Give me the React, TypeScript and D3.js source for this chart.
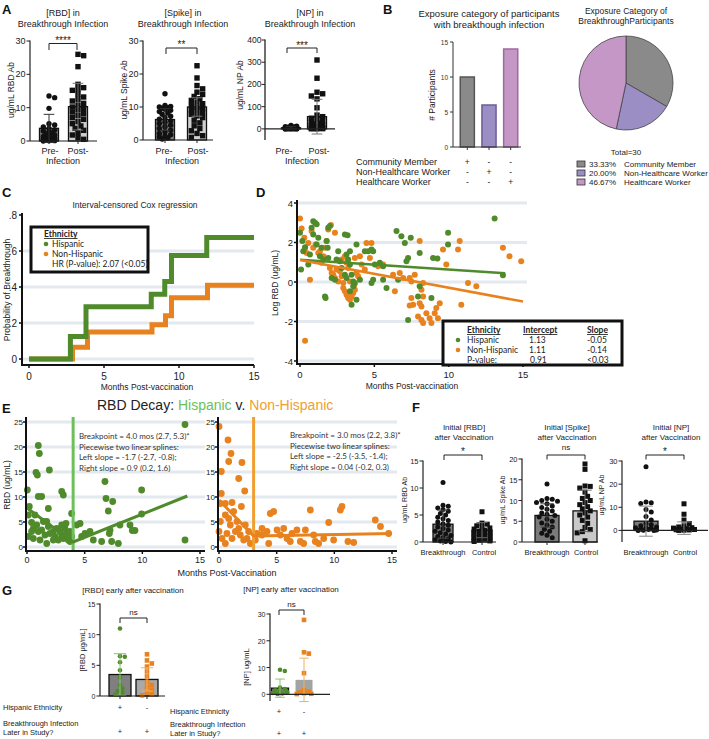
import React from 'react';
import * as d3 from 'd3';

const ARIAL = "'Liberation Sans', Arial, sans-serif";
const CAL = "Lato, 'Open Sans', sans-serif";
const GREEN = '#4f8a2b';
const ORANGE = '#e8821e';
const LGREEN = '#6cbf5a';
const LORANGE = '#f0a030';
const GRID = '#e3e9ee';

// ---------- Panel A data ----------
const aRbdPre = [13.5, 13.0, 9.8, 5.2, 4.8, 4.2, 3.8, 3.3, 3.0, 2.7, 2.4, 2.1, 1.8, 1.6, 1.4, 1.2, 1.0, 0.9, 0.8, 0.7, 0.6, 0.5, 0.4, 0.3, 0.3, 0.2, 0.2, 0.1, 0.1, 0.0];
const aRbdPost = [26.0, 25.6, 22.3, 17.0, 16.0, 15.5, 15.2, 14.0, 13.2, 12.5, 12.0, 11.3, 10.8, 10.2, 9.8, 9.3, 8.7, 8.2, 7.6, 7.0, 6.5, 5.8, 5.2, 4.5, 3.8, 3.2, 2.5, 1.8, 1.0, 0.5];
const aSpikePre = [14.0, 10.5, 10.2, 10.0, 9.8, 9.6, 9.3, 9.0, 8.6, 8.2, 7.8, 7.2, 6.8, 6.3, 5.8, 5.4, 5.0, 4.5, 4.0, 3.5, 3.0, 2.5, 2.0, 1.6, 1.2, 0.9, 0.6, 0.3];
const aSpikePost = [22.5, 18.8, 16.5, 15.5, 14.5, 13.8, 13.2, 12.5, 12.0, 11.5, 11.0, 10.5, 10.0, 9.6, 9.2, 8.8, 8.3, 7.8, 7.3, 6.8, 6.0, 5.2, 4.3, 3.5, 2.8, 2.0, 1.3, 0.8];
const aNpPre = [15, 12, 10, 9, 8, 7, 6, 5, 4, 3, 2, 1, 0.5, 0, 0, 0, 0, 0];
const aNpPost = [310, 228, 165, 158, 148, 135, 95, 62, 55, 48, 42, 36, 30, 26, 22, 18, 15, 12, 10, 8, 6, 5, 4, 3, 2, 1, 0.5, 0.2];
const aMeans = { rbd: [3.8, 10.3], spike: [6.2, 10.0], np: [5, 55] };
const aSds = { rbd: [4.2, 7.0], spike: [3.3, 2.8], np: [5, 78] };

// ---------- Panel B data ----------
const bCats = ['Community Member', 'Non-Healthcare Worker', 'Healthcare Worker'];
const bCounts = [10, 6, 14];
const bPcts = [33.33, 20.0, 46.67];
const bFill = ['#8a8a8a', '#9b8ec4', '#c497c6'];
const bStroke = ['#555555', '#6b5e99', '#9a6c9c'];
const bTicks = [0, 5, 10, 15];

// ---------- Panel C data ----------
const cHispT = [0, 2.76, 3.8, 8.15, 9.05, 9.5, 11.85, 15];
const cHispP = [0, 0.125, 0.29, 0.36, 0.43, 0.575, 0.675, 0.675];
const cNonT = [0, 2.9, 3.9, 8.2, 9.1, 9.5, 11.9, 15];
const cNonP = [0, 0.065, 0.15, 0.19, 0.24, 0.34, 0.41, 0.41];
const cYTicks = [0, 0.2, 0.4, 0.6, 0.8];
const cYLabels = ['0', '.2', '.4', '.6', '.8'];
const xTicks15 = [0, 5, 10, 15];

// ---------- Panel D data ----------
const dGreenX = [0.00, 0.07, 0.16, 0.22, 0.34, 0.56, 0.67, 0.78, 0.89, 1.01, 1.12, 0.89, 1.23, 1.12, 1.34, 1.45, 1.57, 1.79, 1.86, 1.90, 2.01, 1.90, 2.13, 2.35, 1.68, 1.72, 2.46, 2.57, 2.68, 2.80, 3.02, 3.20, 3.13, 3.24, 3.36, 3.36, 3.02, 3.13, 3.47, 3.58, 3.69, 3.58, 3.36, 3.80, 3.47, 3.80, 4.03, 4.36, 4.59, 4.81, 4.92, 5.03, 5.37, 5.59, 4.92, 4.81, 5.59, 5.82, 6.49, 6.60, 6.82, 7.05, 7.45, 7.16, 7.27, 8.05, 8.05, 7.94, 7.27, 8.84, 8.95, 9.24, 9.96, 9.96, 13.09, 13.65];
const dGreenY = [2.49, 0.63, 2.07, 1.56, 1.76, 0.88, 1.39, 2.75, 3.08, 3.00, 2.92, 2.41, 2.24, 1.90, 1.31, 1.73, 1.14, 2.07, 1.73, 2.75, 2.83, 1.22, 0.20, 0.12, -0.73, -0.81, 1.14, 1.56, 1.05, 0.71, 2.41, 2.37, 1.39, 1.14, 1.56, 0.88, 0.37, 0.20, 0.37, 0.03, -0.05, -0.22, -0.47, -0.90, -1.15, 1.90, 0.12, 1.56, 1.56, 1.64, 1.56, 0.88, 0.97, 0.80, 0.12, -0.05, 0.12, -0.31, 2.58, 0.12, 2.32, 1.98, 2.24, 1.05, 1.22, 1.47, -0.22, -0.73, -1.92, -0.81, 1.22, 1.19, 2.49, 1.90, 3.22, 0.34];
const dOrangeX = [0.00, 0.11, 0.29, 0.34, 0.45, 0.56, 0.67, 0.34, 0.78, 0.89, 1.05, 1.23, 1.34, 1.45, 1.57, 1.68, 1.79, 1.90, 2.08, 2.35, 2.01, 2.13, 2.24, 2.35, 2.46, 2.57, 2.68, 2.80, 2.91, 2.91, 3.02, 3.13, 3.24, 3.36, 3.47, 3.58, 3.65, 3.69, 3.80, 3.91, 3.36, 2.80, 3.02, 3.13, 3.24, 3.69, 4.03, 4.14, 4.36, 4.47, 4.81, 4.70, 5.26, 5.59, 6.26, 6.38, 6.71, 6.94, 7.38, 7.49, 7.72, 8.05, 8.28, 8.17, 7.49, 7.61, 7.38, 8.05, 8.17, 8.28, 7.94, 8.17, 8.28, 8.50, 8.72, 8.84, 9.06, 9.17, 9.28, 9.40, 9.62, 9.84, 10.63, 10.74, 10.85, 11.30, 11.86, 13.65, 14.09, 14.88];
const dOrangeY = [3.22, 2.71, 2.24, 1.73, 1.47, 1.98, 0.12, -2.98, 2.58, 1.73, 1.90, 1.47, 1.56, 0.97, 1.31, 1.73, 2.07, 2.66, 2.88, 2.49, 0.71, 0.46, 0.37, 0.20, 0.63, 0.03, 0.54, 0.29, -0.05, -0.31, -0.47, -0.64, -0.81, -0.90, -0.73, -0.56, -0.14, -0.39, 0.46, 0.29, 0.03, 1.14, 1.31, 0.97, 0.71, 1.22, 1.31, 0.88, 0.63, 1.98, 1.98, 1.22, 0.80, 0.88, 0.37, -0.47, 0.46, 0.20, 0.20, 0.03, 0.37, 2.07, -0.05, -0.39, -0.81, -1.15, -1.19, -1.07, -1.24, -0.73, -1.75, -1.92, -2.08, -1.58, -1.83, -2.08, -1.58, -1.32, -1.83, -1.07, 1.64, 0.88, 1.64, 2.07, -1.15, -0.05, -0.22, 1.73, 1.31, 1.05];
const dFitHisp = [[0, 1.13], [13.8, 0.44]];
const dFitNon = [[0, 1.11], [15, -0.99]];
const dYTicks = [-4, -2, 0, 2, 4];

// ---------- Panel E data ----------
const eGreenX = [0.98, 1.07, 0.78, 0.90, 1.94, 0.03, 0.98, 1.27, 3.01, 3.15, 0.20, 0.12, 0.69, 1.85, 0.40, 0.55, 0.84, 0.98, 1.27, 1.42, 1.71, 1.85, 1.56, 1.99, 2.28, 2.43, 2.57, 2.86, 3.01, 3.15, 3.29, 3.38, 3.44, 3.58, 3.73, 3.87, 3.73, 3.87, 3.01, 2.72, 2.28, 1.71, 1.13, 0.40, 0.55, 0.12, 4.31, 4.60, 4.74, 5.03, 5.46, 5.75, 6.47, 6.76, 6.85, 7.05, 7.43, 7.20, 7.14, 7.34, 7.92, 8.06, 8.93, 9.13, 9.36, 9.94, 9.94, 13.70, 13.70];
const eGreenY = [20.3, 18.7, 14.9, 14.4, 15.4, 11.4, 10.1, 10.1, 11.1, 10.4, 8.1, 6.4, 6.4, 7.7, 4.9, 3.7, 4.4, 3.1, 3.4, 5.1, 5.1, 4.1, 2.4, 2.7, 3.1, 2.1, 3.7, 3.1, 2.4, 1.7, 3.7, 4.7, 2.7, 1.4, 1.1, 2.1, 3.1, 6.7, 4.4, 1.4, 1.4, 0.7, 1.4, 3.1, 1.7, 2.1, 4.4, 4.7, 2.1, 2.7, 3.1, 1.4, 1.1, 13.1, 9.7, 7.2, 9.1, 3.4, 2.7, 1.1, 0.7, 4.4, 4.4, 3.3, 3.3, 11.4, 6.6, 24.5, 1.4];
const eOrangeX = [0.00, 0.78, 1.04, 0.84, 1.99, 0.20, 1.71, 2.23, 0.20, 0.12, 0.55, 1.13, 1.27, 1.94, 0.12, 0.55, 0.84, 0.98, 1.56, 1.71, 2.28, 2.57, 0.00, 0.26, 0.69, 1.13, 1.42, 1.85, 2.14, 2.43, 2.72, 0.55, 3.15, 3.29, 3.73, 3.73, 4.16, 4.31, 4.45, 4.74, 5.03, 5.32, 5.61, 5.90, 6.18, 6.33, 6.76, 7.05, 7.34, 7.92, 8.21, 7.49, 8.35, 8.64, 9.08, 9.51, 9.94, 10.52, 10.66, 11.18, 11.68, 13.55, 14.00, 14.71];
const eOrangeY = [24.1, 21.4, 18.7, 17.1, 16.9, 15.1, 13.7, 11.2, 10.7, 8.7, 8.7, 8.9, 7.1, 8.1, 5.1, 6.4, 5.7, 4.4, 5.1, 3.7, 4.4, 3.1, 3.1, 1.7, 2.7, 1.7, 3.1, 2.4, 1.4, 1.7, 0.7, 0.7, 1.4, 2.7, 3.7, 2.4, 3.1, 0.7, 6.7, 7.1, 3.4, 2.4, 3.7, 1.7, 1.1, 2.7, 3.4, 1.1, 0.7, 7.4, 2.4, 3.4, 1.1, 0.7, 1.7, 4.9, 1.4, 7.4, 8.1, 1.1, 0.9, 5.4, 4.1, 2.7];
const eSplineHisp = [[0, 7.8], [4.0, 1.0], [13.9, 10.2]];
const eSplineNon = [[0, 9.4], [3.0, 2.2], [15, 2.7]];
const eBreakHisp = 4.0;
const eBreakNon = 3.0;
const eYTicks = [0, 5, 10, 15, 20, 25];

// ---------- Panel F data ----------
const fRbdBT = [11.0, 6.8, 6.6, 6.3, 6.0, 5.7, 5.3, 5.0, 4.6, 4.3, 4.0, 3.7, 3.4, 3.1, 2.8, 2.5, 2.2, 2.0, 1.7, 1.5, 1.2, 1.0, 0.8, 0.6, 0.4, 0.2, 0.1, 0.0];
const fRbdCtl = [5.6, 3.5, 3.3, 3.0, 2.8, 2.6, 2.4, 2.2, 2.0, 1.8, 1.6, 1.4, 1.2, 1.0, 0.8, 0.6, 0.4, 0.2, 0.1];
const fSpikeBT = [14.0, 10.5, 10.3, 10.0, 9.8, 9.5, 9.2, 8.7, 8.3, 7.9, 7.5, 7.0, 6.7, 6.4, 6.0, 5.5, 5.0, 4.6, 4.1, 3.6, 3.1, 2.6, 2.1, 1.6, 1.0];
const fSpikeCtl = [18.8, 17.5, 13.5, 13.4, 13.0, 12.0, 11.0, 10.5, 10.0, 9.5, 9.0, 8.5, 8.0, 7.5, 7.0, 6.5, 6.0, 5.2, 4.5, 3.5, 3.0, 2.5, 2.2, 0.3];
const fNpBT = [27.5, 12.3, 12.0, 11.6, 9.0, 8.0, 6.0, 4.5, 3.0, 2.5, 2.0, 1.5, 1.2, 1.0, 0.8, 0.6, 0.4, 0.2, 0.1, 0.0, 0.0];
const fNpCtl = [11.5, 7.0, 4.5, 3.0, 2.0, 1.5, 1.2, 1.0, 0.8, 0.6, 0.4, 0.3, 0.2, 0.1, 0.0];
const fMeans = { rbd: [3.3, 2.2], spike: [6.4, 7.5], np: [4.0, 1.0] };
const fSds = { rbd: [2.6, 1.4], spike: [2.8, 5.0], np: [6.5, 2.7] };

// ---------- Panel G data ----------
const gRbdHisp = [11.0, 6.5, 6.4, 5.5, 4.2, 3.0, 1.8, 1.2, 0.8, 0.5, 0.2];
const gRbdNon = [6.8, 5.8, 5.3, 4.8, 4.0, 3.2, 2.3, 1.8, 1.5, 1.0, 0.6, 0.3, 0.1];
const gNpHisp = [9.2, 8.7, 2.5, 2.0, 1.5, 1.0, 0.8, 0.5, 0.3, 0.1];
const gNpNon = [27.8, 15.7, 15.2, 7.9, 1.5, 1.0, 0.7, 0.4, 0.2, 0.1];
const gMeans = { rbd: [3.5, 2.7], np: [2.3, 5.4] };
const gSds = { rbd: [3.4, 1.9], np: [3.4, 8.1] };

// ---------- helpers ----------
function swarm(vals: number[], yf: (v: number) => number, cx: number, r: number, half: number) {
  const placed: { x: number; y: number }[] = [];
  const out: { x: number; y: number }[] = new Array(vals.length);
  const order = vals.map((_, i) => i).sort((a, b) => vals[b] - vals[a]);
  const step = r * 1.05;
  const nSteps = Math.max(0, Math.floor(half / step));
  for (const i of order) {
    const py = yf(vals[i]);
    let best = cx;
    let bestScore = -1;
    for (let k = 0; k <= nSteps * 2; k++) {
      const off = (k % 2 === 1 ? 1 : -1) * Math.ceil(k / 2) * step;
      const px = cx + off;
      let minD = Infinity;
      for (const p of placed) minD = Math.min(minD, Math.hypot(p.x - px, p.y - py));
      if (minD >= 2 * r * 0.92) { best = px; bestScore = Infinity; break; }
      if (minD > bestScore) { bestScore = minD; best = px; }
    }
    placed.push({ x: best, y: py });
    out[i] = { x: best, y: py };
  }
  return out;
}

type Grp = { cx: number; w: number; mean: number; sd: number; fill: string; stroke?: string; vals: number[]; shape: 'c' | 's'; dot: string; err: string; r: number };

function DotBar(props: { axisX: number; xEnd: number; domain: [number, number]; range: [number, number]; ticks: number[]; groups: Grp[]; fs?: number; axisW?: number; lblGap?: number }) {
  const { axisX, xEnd, domain, range, ticks, groups } = props;
  const fs = props.fs ?? 8.5;
  const axisW = props.axisW ?? 1.2;
  const gap = props.lblGap ?? 4.5;
  const y = d3.scaleLinear().domain(domain).range(range);
  const base = y(Math.max(0, domain[0]));
  return (
    <g>
      {groups.map((g, gi) => {
        const pts = swarm(g.vals, y, g.cx, g.r, g.w / 2 - g.r + 1.5);
        const top = y(g.mean);
        const hi = y(g.mean + g.sd);
        const lo = y(g.mean - g.sd);
        return (
          <g key={gi}>
            <rect x={g.cx - g.w / 2} y={Math.min(top, base)} width={g.w} height={Math.abs(base - top)} fill={g.fill} stroke={g.stroke ?? 'none'} strokeWidth={1.3} />
            {pts.map((p, i) => g.shape === 'c'
              ? <circle key={i} cx={p.x} cy={p.y} r={g.r} fill={g.dot} />
              : <rect key={i} x={p.x - g.r} y={p.y - g.r} width={2 * g.r} height={2 * g.r} fill={g.dot} />)}
            <line x1={g.cx} x2={g.cx} y1={hi} y2={lo} stroke={g.err} strokeWidth={1} />
            <line x1={g.cx - g.w * 0.28} x2={g.cx + g.w * 0.28} y1={hi} y2={hi} stroke={g.err} strokeWidth={1} />
            <line x1={g.cx - g.w * 0.28} x2={g.cx + g.w * 0.28} y1={lo} y2={lo} stroke={g.err} strokeWidth={1} />
          </g>
        );
      })}
      <line x1={axisX} x2={axisX} y1={range[1] - 0.5} y2={range[0]} stroke="#222" strokeWidth={axisW} />
      {ticks.map((t) => (
        <g key={t}>
          <line x1={axisX - 3.5} x2={axisX} y1={y(t)} y2={y(t)} stroke="#222" strokeWidth={1} />
          <text x={axisX - gap} y={y(t) + 3} fontSize={fs} textAnchor="end" fill="#222">{t}</text>
        </g>
      ))}
      <line x1={axisX} x2={xEnd} y1={base} y2={base} stroke="#222" strokeWidth={axisW} />
      {domain[0] >= 0 && groups.map((g, gi) => <line key={gi} x1={g.cx} x2={g.cx} y1={base} y2={base + 3} stroke="#222" />)}
    </g>
  );
}

function Bracket({ x1, x2, y, h, label, ly, fs = 10 }: { x1: number; x2: number; y: number; h: number; label: string; ly: number; fs?: number }) {
  return (
    <g>
      <path d={`M${x1},${y + h}V${y}H${x2}V${y + h}`} fill="none" stroke="#222" strokeWidth={1} />
      <text x={(x1 + x2) / 2} y={ly} fontSize={fs} textAnchor="middle" fill="#222">{label}</text>
    </g>
  );
}

function VLabel({ x, y, text, fs = 8.5, family }: { x: number; y: number; text: string; fs?: number; family?: string }) {
  return <text transform={`translate(${x},${y}) rotate(-90)`} fontSize={fs} textAnchor="middle" fill="#222" fontFamily={family}>{text}</text>;
}

function PanelLetter({ x, y, t }: { x: number; y: number; t: string }) {
  return <text x={x} y={y} fontSize={13} fontWeight="bold" fill="#111">{t}</text>;
}

const T = ({ x, y, s, fs = 8.5, anchor = 'middle', fill = '#222', family }: { x: number; y: number; s: string; fs?: number; anchor?: string; fill?: string; family?: string }) => (
  <text x={x} y={y} fontSize={fs} textAnchor={anchor as any} fill={fill} fontFamily={family}>{s}</text>
);

// ---------- Panels ----------
function PanelA() {
  const dk = '#7f7f7f', lt = '#cfcfcf';
  const mk = (cx: number, i: number, vals: number[], means: number[], sds: number[], shape: 'c' | 's'): Grp => ({
    cx, w: 19, mean: means[i], sd: sds[i], fill: i === 0 ? dk : lt, stroke: '#111', vals, shape, dot: '#111', err: i === 0 ? '#333' : '#777', r: 2.7,
  });
  return (
    <g>
      <PanelLetter x={2} y={14} t="A" />
      {/* RBD */}
      <T x={63} y={16} s="[RBD] in" fs={9} />
      <T x={63} y={27} s="Breakthrough Infection" fs={9} />
      <DotBar axisX={30} xEnd={97} domain={[0, 30]} range={[141, 41]} ticks={[0, 10, 20, 30]} fs={9}
        groups={[mk(49, 0, aRbdPre, aMeans.rbd, aSds.rbd, 'c'), mk(78, 1, aRbdPost, aMeans.rbd, aSds.rbd, 's')]} />
      <Bracket x1={49} x2={77} y={43.5} h={6.5} label="****" ly={44} fs={10} />
      <VLabel x={14} y={90} text="ug/mL RBD Ab" />
      <T x={50} y={154} s="Pre-" fs={9} />
      <T x={78} y={154} s="Post-" fs={9} />
      <T x={63} y={164} s="Infection" fs={9} />
      {/* Spike */}
      <T x={183} y={16} s="[Spike] in" fs={9} />
      <T x={183} y={27} s="Breakthrough Infection" fs={9} />
      <DotBar axisX={143} xEnd={213} domain={[0, 30]} range={[140, 41]} ticks={[0, 10, 20, 30]} fs={9}
        groups={[mk(165, 0, aSpikePre, aMeans.spike, aSds.spike, 'c'), mk(197, 1, aSpikePost, aMeans.spike, aSds.spike, 's')]} />
      <Bracket x1={166} x2={197} y={48} h={6} label="**" ly={48} fs={10} />
      <VLabel x={127} y={90} text="ug/mL Spike Ab" />
      <T x={164} y={154} s="Pre-" fs={9} />
      <T x={198} y={154} s="Post-" fs={9} />
      <T x={182} y={164} s="Infection" fs={9} />
      {/* NP */}
      <T x={310} y={16} s="[NP] in" fs={9} />
      <T x={310} y={27} s="Breakthrough Infection" fs={9} />
      <DotBar axisX={265} xEnd={335} domain={[-50, 400]} range={[140, 40]} ticks={[0, 100, 200, 300, 400]} fs={8.5} axisW={1.3} lblGap={3.5}
        groups={[mk(291, 0, aNpPre, aMeans.np, aSds.np, 'c'), mk(317, 1, aNpPost, aMeans.np, aSds.np, 's')]} />
      <Bracket x1={287} x2={317} y={48} h={5} label="***" ly={49} fs={10} />
      <VLabel x={243} y={85} text="ug/mL NP Ab" />
      <T x={284} y={154} s="Pre-" fs={9} />
      <T x={319} y={154} s="Post-" fs={9} />
      <T x={302} y={164} s="Infection" fs={9} />
    </g>
  );
}

function PanelB() {
  const y = d3.scaleLinear().domain([0, 15]).range([147, 42]);
  const bx = d3.scaleBand<number>().domain([0, 1, 2]).range([457, 521]).paddingInner(0.35).paddingOuter(0.15);
  const pie = d3.pie<number>().sort(null).value((d) => d)(bPcts);
  const arc = d3.arc<d3.PieArcDatum<number>>().innerRadius(0).outerRadius(47);
  const pcx = 626, pcy = 83;
  const marks = [['+', '-', '-'], ['-', '+', '-'], ['-', '-', '+']];
  return (
    <g>
      <PanelLetter x={383} y={14} t="B" />
      <T x={489} y={17} s="Exposure category of participants" fs={9.5} />
      <T x={489} y={28} s="with breakthough infection" fs={9.5} />
      {bCounts.map((c, i) => (
        <rect key={i} x={bx(i)!} y={y(c)} width={bx.bandwidth()} height={y(0) - y(c)} fill={bFill[i]} stroke={bStroke[i]} strokeWidth={1.5} />
      ))}
      <line x1={453} x2={453} y1={42} y2={147} stroke="#333" strokeWidth={1} />
      <line x1={453} x2={521} y1={147} y2={147} stroke="#333" strokeWidth={1} />
      {bTicks.map((t) => (
        <g key={t}>
          <line x1={450} x2={453} y1={y(t)} y2={y(t)} stroke="#333" />
          <text x={448} y={y(t) + 2.5} fontSize={6.5} textAnchor="end" fill="#333">{t}</text>
        </g>
      ))}
      {bCounts.map((_, i) => <line key={i} x1={bx(i)! + bx.bandwidth() / 2} x2={bx(i)! + bx.bandwidth() / 2} y1={147} y2={150} stroke="#333" />)}
      <VLabel x={435} y={95} text="# Participants" fs={8.5} />
      {bCats.map((c, r) => (
        <g key={c}>
          <T x={356} y={165 + r * 10} s={c} fs={9} anchor="start" />
          {marks[r].map((m, i) => <T key={i} x={bx(i)! + bx.bandwidth() / 2} y={165 + r * 10} s={m} fs={8.5} />)}
        </g>
      ))}
      {/* pie */}
      <T x={pcx} y={14} s="Exposure Category of" fs={8.5} />
      <T x={pcx} y={24} s="BreakthroughParticipants" fs={8.5} />
      <g transform={`translate(${pcx},${pcy})`}>
        {pie.map((p, i) => <path key={i} d={arc(p)!} fill={bFill[i]} stroke="#444" strokeWidth={0.8} />)}
      </g>
      <T x={pcx} y={155} s="Total=30" fs={8} />
      {bCats.map((c, i) => (
        <g key={c}>
          <rect x={577} y={161 + i * 9} width={8} height={6} fill={bFill[i]} stroke="#333" strokeWidth={0.8} />
          <T x={589} y={167 + i * 9} s={`${bPcts[i].toFixed(2)}%`} fs={8} anchor="start" />
          <T x={624} y={167 + i * 9} s={c} fs={8} anchor="start" />
        </g>
      ))}
    </g>
  );
}

function PanelC() {
  const x = d3.scaleLinear().domain([0, 15]).range([29, 254]);
  const y = d3.scaleLinear().domain([0, 0.8]).range([359, 215]);
  const line = d3.line<[number, number]>().x((d) => x(d[0])).y((d) => y(d[1])).curve(d3.curveStepAfter);
  const hisp = cHispT.map((t, i) => [t, cHispP[i]] as [number, number]);
  const non = cNonT.map((t, i) => [t, cNonP[i]] as [number, number]);
  return (
    <g>
      <PanelLetter x={2} y={197} t="C" />
      <T x={135} y={208} s="Interval-censored Cox regression" fs={8.5} />
      {cYTicks.slice(0, 4).map((t) => <line key={t} x1={22} x2={254} y1={y(t)} y2={y(t)} stroke={GRID} strokeWidth={3} />)}
      <path d={line(non)!} fill="none" stroke={ORANGE} strokeWidth={5} />
      <path d={line(hisp)!} fill="none" stroke={GREEN} strokeWidth={5} />
      <line x1={22} x2={22} y1={213} y2={366} stroke="#111" strokeWidth={2} />
      <line x1={21} x2={254} y1={365} y2={365} stroke="#111" strokeWidth={2} />
      {cYTicks.map((t, i) => (
        <g key={t}>
          <line x1={19} x2={22} y1={y(t)} y2={y(t)} stroke="#111" strokeWidth={1.5} />
          <text x={17} y={y(t) + 3.5} fontSize={10} textAnchor="end" fill="#222">{cYLabels[i]}</text>
        </g>
      ))}
      {xTicks15.map((t) => (
        <g key={t}>
          <line x1={x(t)} x2={x(t)} y1={365} y2={368} stroke="#111" strokeWidth={1.5} />
          <text x={x(t)} y={380} fontSize={10} textAnchor="middle" fill="#222">{t}</text>
        </g>
      ))}
      <T x={147} y={390} s="Months Post-vaccination" fs={8.5} />
      <VLabel x={10} y={290} text="Probability of Breakthrough" fs={8.5} />
      <rect x={31} y={227} width={117} height={45} fill="#fff" stroke="#111" strokeWidth={3} />
      <text x={44} y={237} fontSize={8.5} fontWeight="bold" textDecoration="underline" fontFamily={CAL} fill="#222">Ethnicity</text>
      <circle cx={46} cy={244} r={2.3} fill={GREEN} />
      <T x={52} y={247} s="Hispanic" fs={8.5} anchor="start" family={CAL} />
      <circle cx={46} cy={254} r={2.3} fill={ORANGE} />
      <T x={52} y={257} s="Non-Hispanic" fs={8.5} anchor="start" family={CAL} />
      <T x={52} y={267} s="HR (P-value): 2.07 (<0.05)" fs={8.5} anchor="start" family={CAL} />
    </g>
  );
}

function PanelD() {
  const x = d3.scaleLinear().domain([0, 15]).range([300, 523]);
  const y = d3.scaleLinear().domain([-4, 4]).range([361, 203]);
  const ln = d3.line<number[]>().x((d) => x(d[0])).y((d) => y(d[1]));
  return (
    <g>
      <PanelLetter x={256} y={197} t="D" />
      {dYTicks.map((t) => <line key={t} x1={297} x2={527} y1={y(t)} y2={y(t)} stroke={GRID} strokeWidth={3} />)}
      {dOrangeX.map((v, i) => <circle key={'o' + i} cx={x(v)} cy={y(dOrangeY[i])} r={3} fill={ORANGE} />)}
      {dGreenX.map((v, i) => <circle key={'g' + i} cx={x(v)} cy={y(dGreenY[i])} r={3} fill={GREEN} />)}
      <path d={ln(dFitHisp)!} stroke={GREEN} strokeWidth={2.5} fill="none" />
      <path d={ln(dFitNon)!} stroke={ORANGE} strokeWidth={2.5} fill="none" />
      <line x1={297} x2={297} y1={200} y2={365} stroke="#111" strokeWidth={2} />
      <line x1={296} x2={527} y1={364} y2={364} stroke="#111" strokeWidth={2} />
      {dYTicks.map((t) => (
        <g key={t}>
          <line x1={294} x2={297} y1={y(t)} y2={y(t)} stroke="#111" strokeWidth={1.5} />
          <text x={293} y={y(t) + 3.5} fontSize={9.5} textAnchor="end" fill="#222">{t}</text>
        </g>
      ))}
      {xTicks15.map((t) => (
        <g key={t}>
          <line x1={x(t)} x2={x(t)} y1={364} y2={367} stroke="#111" strokeWidth={1.5} />
          <text x={x(t)} y={378} fontSize={9.5} textAnchor="middle" fill="#222">{t}</text>
        </g>
      ))}
      <T x={412} y={389} s="Months Post-vaccination" fs={8.5} />
      <VLabel x={278} y={283} text="Log RBD (ug/mL)" fs={8.5} />
      <g fontFamily={CAL}>
        <rect x={443} y={321} width={179} height={44} fill="#fff" stroke="none" />
        <text x={467} y={333} fontSize={8.5} fontWeight="bold" textDecoration="underline" fill="#222">Ethnicity</text>
        <text x={523} y={333} fontSize={8.5} fontWeight="bold" textDecoration="underline" fill="#222">Intercept</text>
        <text x={587} y={333} fontSize={8.5} fontWeight="bold" textDecoration="underline" fill="#222">Slope</text>
        <circle cx={458} cy={340} r={2.3} fill={GREEN} />
        <T x={467} y={343} s="Hispanic" anchor="start" family={CAL} />
        <T x={529} y={343} s="1.13" anchor="start" family={CAL} />
        <T x={587} y={343} s="-0.05" anchor="start" family={CAL} />
        <circle cx={458} cy={350} r={2.3} fill={ORANGE} />
        <T x={467} y={353} s="Non-Hispanic" anchor="start" family={CAL} />
        <T x={529} y={353} s="1.11" anchor="start" family={CAL} />
        <T x={587} y={353} s="-0.14" anchor="start" family={CAL} />
        <T x={467} y={363} s="P-value:" anchor="start" family={CAL} />
        <T x={530} y={363} s="0.91" anchor="start" family={CAL} />
        <T x={587} y={363} s="<0.03" anchor="start" family={CAL} />
        <rect x={443} y={321} width={179} height={44} fill="none" stroke="#111" strokeWidth={3} />
      </g>
    </g>
  );
}

function ScatterE({ x0, xs, ys, color, lcolor, spline, brk, textX, textY, lines }: { x0: number; xs: number[]; ys: number[]; color: string; lcolor: string; spline: number[][]; brk: number; textX: number; textY: number; lines: string[] }) {
  const x = d3.scaleLinear().domain([0, 15]).range([x0, x0 + 173]);
  const y = d3.scaleLinear().domain([0, 25]).range([547, 422]);
  const ln = d3.line<number[]>().x((d) => x(d[0])).y((d) => y(d[1]));
  const ax = x0 - 1;
  return (
    <g>
      {eYTicks.map((t) => <line key={t} x1={ax} x2={x0 + 178} y1={y(t)} y2={y(t)} stroke={GRID} strokeWidth={3} />)}
      {xs.map((v, i) => <circle key={i} cx={x(v)} cy={y(ys[i])} r={3.4} fill={color} />)}
      <line x1={x(brk)} x2={x(brk)} y1={417} y2={551} stroke={lcolor} strokeWidth={3} />
      <path d={ln(spline)!} stroke={color} strokeWidth={3} fill="none" />
      <line x1={ax} x2={ax} y1={417} y2={552} stroke="#111" strokeWidth={2} />
      <line x1={ax - 1} x2={x0 + 178} y1={551} y2={551} stroke="#111" strokeWidth={2} />
      {eYTicks.map((t) => (
        <g key={t}>
          <line x1={ax - 3} x2={ax} y1={y(t)} y2={y(t)} stroke="#111" strokeWidth={1.5} />
          <text x={ax - 3} y={y(t) + 3} fontSize={8} textAnchor="end" fill="#222">{t}</text>
        </g>
      ))}
      {xTicks15.map((t) => (
        <g key={t}>
          <line x1={x(t)} x2={x(t)} y1={551} y2={554} stroke="#111" strokeWidth={1.5} />
          <text x={x(t)} y={563} fontSize={9} textAnchor="middle" fill="#222">{t}</text>
        </g>
      ))}
      {lines.map((s, i) => <T key={i} x={textX} y={textY + i * 10.5} s={s} fs={8} anchor="start" family={CAL} fill="#333" />)}
    </g>
  );
}

function PanelE() {
  return (
    <g>
      <PanelLetter x={2} y={413} t="E" />
      <text x={97} y={410} fontSize={14} fill="#222">
        RBD Decay: <tspan fill={LGREEN}>Hispanic</tspan> v. <tspan fill={LORANGE}>Non-Hispanic</tspan>
      </text>
      <ScatterE x0={27} xs={eGreenX} ys={eGreenY} color={GREEN} lcolor={LGREEN} spline={eSplineHisp} brk={eBreakHisp} textX={79} textY={439}
        lines={['Breakpoint = 4.0 mos (2.7, 5.3)*', 'Piecewise two linear splines:', 'Left slope = -1.7 (-2.7, -0.8);', 'Right slope = 0.9 (0.2, 1.6)']} />
      <ScatterE x0={219} xs={eOrangeX} ys={eOrangeY} color={ORANGE} lcolor={LORANGE} spline={eSplineNon} brk={eBreakNon} textX={290} textY={438}
        lines={['Breakpoint = 3.0 mos (2.2, 3.8)*', 'Piecewise two linear splines:', 'Left slope = -2.5 (-3.5, -1.4);', 'Right slope = 0.04 (-0.2, 0.3)']} />
      <T x={227} y={576} s="Months Post-Vaccination" fs={9} />
      <VLabel x={10} y={485} text="RBD (ug/mL)" fs={8.5} />
    </g>
  );
}

function PanelF() {
  const dk = '#7a7a7a', lt = '#c9c9c9';
  const mk = (cx: number, w: number, i: number, vals: number[], means: number[], sds: number[], shape: 'c' | 's', err: string): Grp => ({
    cx, w, mean: means[i], sd: sds[i], fill: i === 0 ? dk : lt, stroke: '#111', vals, shape, dot: '#111', err, r: 2.5,
  });
  return (
    <g>
      <PanelLetter x={412} y={412} t="F" />
      {/* RBD */}
      <T x={464} y={430} s="Initial [RBD]" fs={8} />
      <T x={464} y={440} s="after Vaccination" fs={8} />
      <DotBar axisX={423} xEnd={496} domain={[0, 15]} range={[542, 461]} ticks={[0, 5, 10, 15]} fs={7.5}
        groups={[mk(443, 20, 0, fRbdBT, fMeans.rbd, fSds.rbd, 'c', '#444'), mk(482, 20, 1, fRbdCtl, fMeans.rbd, fSds.rbd, 's', '#666')]} />
      <Bracket x1={444} x2={482} y={455} h={5} label="*" ly={455} fs={10} />
      <VLabel x={407} y={500} text="ug/mL RBD Ab" fs={7} />
      <T x={443} y={555} s="Breakthrough" fs={7.5} />
      <T x={484} y={555} s="Control" fs={7.5} />
      {/* Spike */}
      <T x={567} y={430} s="Initial [Spike]" fs={8} />
      <T x={567} y={440} s="after Vaccination" fs={8} />
      <DotBar axisX={522} xEnd={598} domain={[0, 20]} range={[542, 459]} ticks={[0, 5, 10, 15, 20]} fs={7.5}
        groups={[mk(547, 24, 0, fSpikeBT, fMeans.spike, fSds.spike, 'c', '#444'), mk(585, 24, 1, fSpikeCtl, fMeans.spike, fSds.spike, 's', '#666')]} />
      <Bracket x1={547} x2={585} y={455} h={4.5} label="ns" ly={450} fs={8} />
      <VLabel x={505} y={500} text="ug/mL Spike Ab" fs={7} />
      <T x={547} y={555} s="Breakthrough" fs={7.5} />
      <T x={586} y={555} s="Control" fs={7.5} />
      {/* NP */}
      <T x={671} y={430} s="Initial [NP]" fs={8} />
      <T x={671} y={440} s="after Vaccination" fs={8} />
      <DotBar axisX={622} xEnd={708} domain={[-5, 30]} range={[542, 461]} ticks={[0, 10, 20, 30]} fs={7.5}
        groups={[mk(646, 24, 0, fNpBT, fMeans.np, fSds.np, 'c', '#888'), mk(684, 24, 1, fNpCtl, fMeans.np, fSds.np, 's', '#888')]} />
      <Bracket x1={646} x2={684} y={455} h={4.5} label="*" ly={455} fs={10} />
      <VLabel x={604} y={495} text="ug/mL NP Ab" fs={7} />
      <T x={646} y={555} s="Breakthrough" fs={7.5} />
      <T x={685} y={555} s="Control" fs={7.5} />
    </g>
  );
}

function PanelG() {
  const hispG: Grp = { cx: 120, w: 22, mean: gMeans.rbd[0], sd: gSds.rbd[0], fill: '#7f7f7f', stroke: '#111', vals: gRbdHisp, shape: 'c', dot: GREEN, err: '#8cc46e', r: 2.3 };
  const nonG: Grp = { cx: 147, w: 22, mean: gMeans.rbd[1], sd: gSds.rbd[1], fill: '#a9a9a9', stroke: '#111', vals: gRbdNon, shape: 's', dot: ORANGE, err: '#f2b060', r: 2.3 };
  const hispN: Grp = { cx: 280, w: 17, mean: gMeans.np[0], sd: gSds.np[0], fill: '#7f7f7f', stroke: '#111', vals: gNpHisp, shape: 'c', dot: GREEN, err: '#8cc46e', r: 2.3 };
  const nonN: Grp = { cx: 304, w: 17, mean: gMeans.np[1], sd: gSds.np[1], fill: '#a3a3a3', vals: gNpNon, shape: 's', dot: ORANGE, err: '#f2b060', r: 2.3 };
  return (
    <g>
      <PanelLetter x={2} y={595} t="G" />
      <T x={133} y={593} s="[RBD] early after vaccination" fs={8} />
      <DotBar axisX={100} xEnd={165} domain={[0, 15]} range={[696, 604]} ticks={[0, 5, 10, 15]} fs={7} groups={[hispG, nonG]} />
      <Bracket x1={120} x2={147} y={618} h={5} label="ns" ly={615} fs={8} />
      <VLabel x={85} y={650} text="[RBD μg/mL]" fs={7.5} />
      <T x={3} y={710} s="Hispanic Ethnicity" fs={7.5} anchor="start" />
      <T x={120} y={710} s="+" fs={7.5} />
      <T x={147} y={710} s="-" fs={7.5} />
      <T x={3} y={726} s="Breakthrough Infection" fs={7.5} anchor="start" />
      <T x={3} y={735} s="Later in Study?" fs={7.5} anchor="start" />
      <T x={120} y={734} s="+" fs={7.5} />
      <T x={147} y={734} s="+" fs={7.5} />

      <T x={291} y={592} s="[NP] early after vaccination" fs={8} />
      <DotBar axisX={270} xEnd={330} domain={[-2.5, 30]} range={[701, 614]} ticks={[0, 10, 20, 30]} fs={7} groups={[hispN, nonN]} />
      <Bracket x1={279} x2={304} y={610} h={5} label="ns" ly={607} fs={8} />
      <VLabel x={249} y={667} text="[NP] ug/mL" fs={7.5} />
      <T x={170} y={714} s="Hispanic Ethnicity" fs={7.5} anchor="start" />
      <T x={279} y={714} s="+" fs={7.5} />
      <T x={304} y={714} s="-" fs={7.5} />
      <T x={170} y={727} s="Breakthrough Infection" fs={7.5} anchor="start" />
      <T x={170} y={736} s="Later in Study?" fs={7.5} anchor="start" />
      <T x={279} y={736} s="+" fs={7.5} />
      <T x={304} y={736} s="+" fs={7.5} />
    </g>
  );
}

export default function App() {
  return (
    <svg width={709} height={739} viewBox="0 0 709 739" style={{ position: 'absolute', left: 0, top: 0, background: '#fff' }} fontFamily={ARIAL}>
      <rect width={709} height={739} fill="#fff" />
      <PanelA />
      <PanelB />
      <PanelC />
      <PanelD />
      <PanelE />
      <PanelF />
      <PanelG />
    </svg>
  );
}
